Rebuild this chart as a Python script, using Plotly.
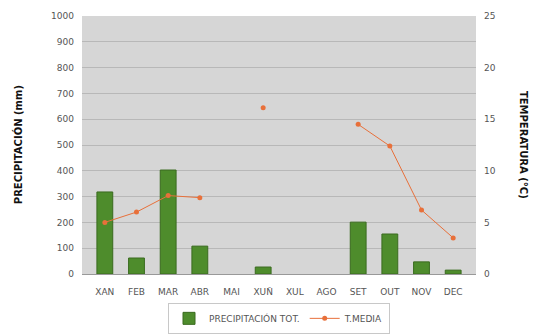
import plotly.graph_objects as go

months = ["XAN", "FEB", "MAR", "ABR", "MAI", "XUÑ", "XUL", "AGO", "SET", "OUT", "NOV", "DEC"]
precip = [318, 62, 403, 108, None, 27, None, None, 201, 155, 47, 15]
tmedia = [5.0, 6.0, 7.6, 7.4, None, 16.1, None, None, 14.5, 12.4, 6.2, 3.5]

font = "DejaVu Sans, Verdana, sans-serif"
tick_col = "#555555"

fig = go.Figure()
fig.add_trace(go.Bar(
    x=months, y=precip, name="PRECIPITACIÓN TOT.",
    marker=dict(color="#4e8c2c", line=dict(color="#3a6b1f", width=1)),
    width=0.5,
))
fig.add_trace(go.Scatter(
    x=months, y=tmedia, name="T.MEDIA", yaxis="y2",
    mode="lines+markers",
    line=dict(color="#e8703a", width=1),
    marker=dict(color="#e8703a", size=5, symbol="circle"),
    connectgaps=False,
))

# page body has an 8px margin, so the figure is drawn 8px in from the top-left
fig.update_layout(
    template="none",
    width=532, height=327,
    margin=dict(l=74, r=64, t=8, b=61, pad=0, autoexpand=False),
    paper_bgcolor="white",
    plot_bgcolor="#d6d6d6",
    font=dict(family=font, size=8, color=tick_col),
    showlegend=True,
    legend=dict(
        orientation="h", x=0.5, xanchor="center", y=-0.232, yanchor="bottom",
        bordercolor="#c8c8c8", borderwidth=1, font=dict(size=9, color=tick_col),
        traceorder="normal", itemwidth=30, tracegroupgap=0, bgcolor="white",
    ),
    xaxis=dict(
        type="category", showgrid=False, showline=True, linecolor="#999999",
        ticks="", tickfont=dict(size=9, color=tick_col), automargin=False,
        ticklabelstandoff=9,
    ),
    yaxis=dict(
        range=[0, 1000], dtick=100, showgrid=True, gridcolor="#b8b8b8",
        gridwidth=1, zeroline=False, tickfont=dict(size=9, color=tick_col), ticks="",
        showline=False, automargin=False, ticklabelstandoff=7,
    ),
    yaxis2=dict(
        range=[0, 25], dtick=5, overlaying="y", side="right", showgrid=False,
        zeroline=False, tickfont=dict(size=9, color=tick_col), ticks="", automargin=False,
        ticklabelstandoff=7,
    ),
    annotations=[
        dict(text="<b>PRECIPITACIÓN (mm)</b>", textangle=-90, x=-0.162, xref="paper",
             xanchor="center", y=0.5, yref="paper", yanchor="middle", showarrow=False,
             font=dict(size=10, color="#111111")),
        dict(text="<b>TEMPERATURA (°C)</b>", textangle=90, x=1.122, xref="paper",
             xanchor="center", y=0.5, yref="paper", yanchor="middle", showarrow=False,
             font=dict(size=10, color="#111111")),
    ],
)

fig.write_html("out.html")
